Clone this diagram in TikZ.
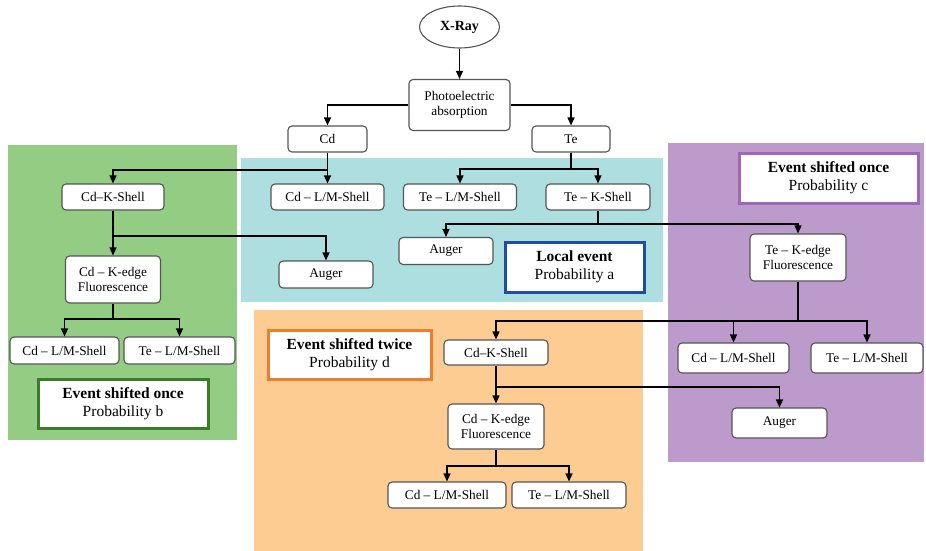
\documentclass[tikz,border=0pt]{standalone}
\usepackage{fontspec}
\setmainfont{Liberation Serif}
\usetikzlibrary{arrows.meta,shapes.geometric}
\definecolor{rgreen}{RGB}{147,204,131}
\definecolor{rcyan}{RGB}{173,222,224}
\definecolor{rpurple}{RGB}{188,155,204}
\definecolor{rorange}{RGB}{253,204,146}
\definecolor{bblue}{RGB}{31,78,158}
\definecolor{bgreen}{RGB}{61,122,42}
\definecolor{bpurple}{RGB}{160,102,184}
\definecolor{borange}{RGB}{240,124,44}
\definecolor{boxline}{RGB}{85,85,85}
\tikzset{
  box/.style={draw=boxline,line width=1.1pt,fill=white,rounded corners=4pt,align=center,inner sep=0pt,
    font=\fontsize{13.3}{14.5}\selectfont},
  tag/.style={draw,line width=3pt,fill=white,align=center,inner sep=0pt,
    font=\fontsize{15.5}{18}\selectfont},
  conn/.style={line width=1.2pt,black},
  arr/.style={conn,-{Triangle[length=8pt,width=7pt]}}
}
\begin{document}
\begin{tikzpicture}[x=1pt,y=-1pt]
\useasboundingbox (0,0) rectangle (926,551);
% regions
\fill[rgreen] (8,145) rectangle (237,440);
\fill[rcyan] (241,158) rectangle (663,302);
\fill[rpurple] (668,143) rectangle (924,462);
\fill[rorange] (254,310) rectangle (643,551);

% nodes
\node[draw=boxline,line width=1.1pt,fill=white,ellipse,minimum width=80pt,minimum height=42pt,inner sep=0pt,font=\fontsize{14}{16}\selectfont\bfseries] (xray) at (459.5,27) {X-Ray};
\node[box,minimum width=101pt,minimum height=51pt] (pe) at (459.5,105) {Photoelectric\\absorption};
\node[box,minimum width=79pt,minimum height=26pt] (cd) at (327.5,139) {Cd};
\node[box,minimum width=78pt,minimum height=26pt] (te) at (571,139) {Te};

\node[box,minimum width=102pt,minimum height=26pt] (cdk) at (113,197) {Cd–K-Shell};
\node[box,minimum width=113pt,minimum height=26pt] (cdlm) at (327.5,197) {Cd – L/M-Shell};
\node[box,minimum width=113pt,minimum height=26pt] (telm) at (460,197) {Te – L/M-Shell};
\node[box,minimum width=104pt,minimum height=26pt] (tek) at (598,197) {Te – K-Shell};

\node[box,minimum width=94pt,minimum height=27pt] (aug1) at (446,251) {Auger};
\node[box,minimum width=94pt,minimum height=27pt] (aug2) at (326,274.5) {Auger};
\node[tag,draw=bblue,minimum width=139pt,minimum height=50pt] (loc) at (574.5,267) {\textbf{Local event}\\Probability a};

\node[box,minimum width=95pt,minimum height=47pt] (cdkf) at (113,279.5) {Cd – K-edge\\Fluorescence};
\node[box,minimum width=109pt,minimum height=27pt] (cdlmg) at (64.5,350.5) {Cd – L/M-Shell};
\node[box,minimum width=111pt,minimum height=27pt] (telmg) at (179.5,350.5) {Te – L/M-Shell};
\node[tag,draw=bgreen,minimum width=170pt,minimum height=49pt] (evb) at (123,403.5) {\textbf{Event shifted once}\\Probability b};

\node[tag,draw=bpurple,minimum width=179pt,minimum height=50pt] (evc) at (828.5,178) {\textbf{Event shifted once}\\Probability c};
\node[box,minimum width=96pt,minimum height=47pt] (tekf) at (798,257.5) {Te – K-edge\\Fluorescence};
\node[box,minimum width=111pt,minimum height=30pt] (cdlmp) at (733.5,358) {Cd – L/M-Shell};
\node[box,minimum width=112pt,minimum height=30pt] (telmp) at (867,358) {Te – L/M-Shell};
\node[box,minimum width=95pt,minimum height=30pt] (augp) at (779.5,423) {Auger};

\node[tag,draw=borange,minimum width=163pt,minimum height=49pt] (evd) at (349.5,354.5) {\textbf{Event shifted twice}\\Probability d};
\node[box,minimum width=104pt,minimum height=25pt] (cdko) at (496,352.5) {Cd–K-Shell};
\node[box,minimum width=96pt,minimum height=45pt] (cdkfo) at (496,426.5) {Cd – K-edge\\Fluorescence};
\node[box,minimum width=118pt,minimum height=26pt] (cdlmo) at (447,495) {Cd – L/M-Shell};
\node[box,minimum width=114pt,minimum height=26pt] (telmo) at (569,495) {Te – L/M-Shell};

% junction coordinates
\coordinate (j1) at (327.5,170);
\coordinate (j2) at (571,169);
\coordinate (j3) at (598,224);
\coordinate (j4) at (113,236);
\coordinate (j5) at (113,319);
\coordinate (j6) at (798,321);
\coordinate (j7) at (496,387);
\coordinate (j8) at (496,466);

% connectors
\draw[arr] (xray) -- (pe);
\draw[arr] (pe.west) -| (cd.north);
\draw[arr] (pe.east) -| (te.north);
\draw[arr] (cd) -- (cdlm);
\draw[arr] (j1) -| (cdk.north);
\draw[conn] (te.south) -- (j2);
\draw[arr] (j2) -| (telm.north);
\draw[arr] (j2) -| (tek.north);
\draw[conn] (tek.south) -- (j3);
\draw[arr] (j3) -| (aug1.north);
\draw[arr] (j3) -| (tekf.north);
\draw[arr] (cdk) -- (cdkf);
\draw[arr] (j4) -| (aug2.north);
\draw[conn] (cdkf.south) -- (j5);
\draw[arr] (j5) -| (cdlmg.north);
\draw[arr] (j5) -| (telmg.north);
\draw[conn] (tekf.south) -- (j6);
\draw[arr] (j6) -| (cdko.north);
\draw[arr] (j6) -| (cdlmp.north);
\draw[arr] (j6) -| (telmp.north);
\draw[arr] (cdko) -- (cdkfo);
\draw[arr] (j7) -| (augp.north);
\draw[conn] (cdkfo.south) -- (j8);
\draw[arr] (j8) -| (cdlmo.north);
\draw[arr] (j8) -| (telmo.north);
\end{tikzpicture}
\end{document}
